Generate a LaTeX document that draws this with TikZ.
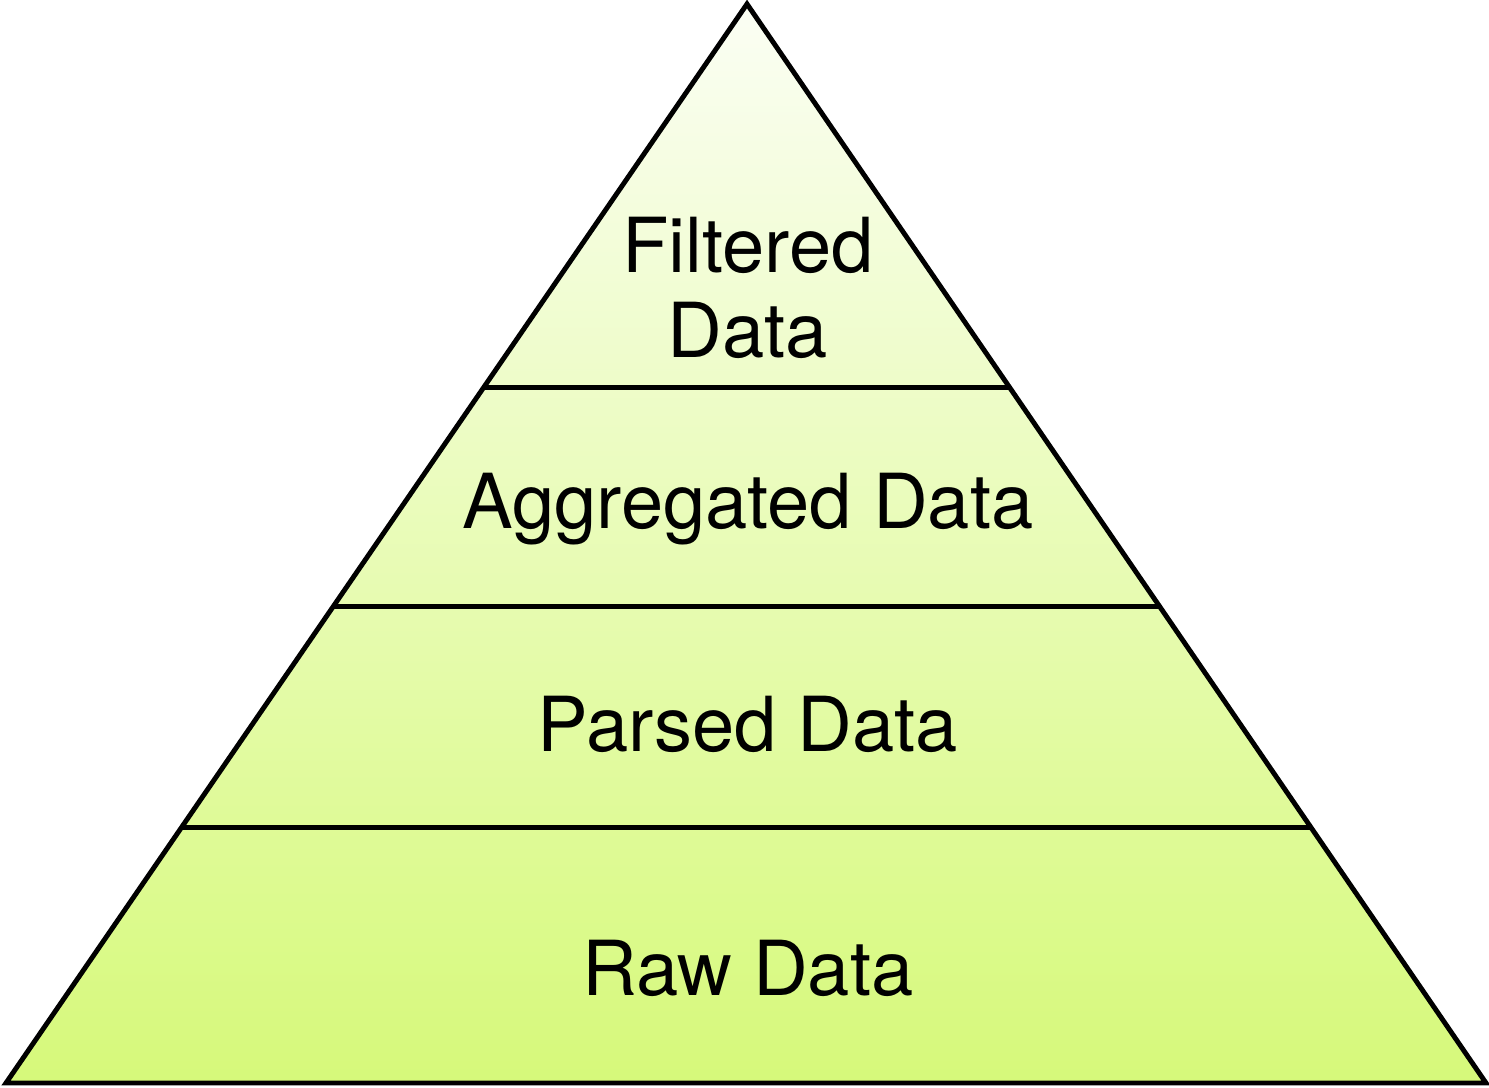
\documentclass[tikz,border=0pt]{standalone}
\usepackage{fontspec}
\setmainfont{TeX Gyre Heros}
\usetikzlibrary{calc}
\definecolor{pyrtop}{RGB}{251,254,244}
\definecolor{pyrmid}{RGB}{238,250,210}
\definecolor{pyrbot}{RGB}{214,249,122}
\tikzset{
  layer/.style={font=\fontsize{21.6pt}{24pt}\selectfont, align=center, text=black},
  edge/.style={line width=1.4pt, black, line join=miter}
}
\begin{document}
\begin{tikzpicture}
\useasboundingbox (0,0) rectangle (14.89,10.87);
% Pyramid corners
\coordinate (apex) at (7.47,10.83);
\coordinate (left) at (0.06,0.04);
\coordinate (right) at (14.86,0.04);

% Gradient body
\shade[top color=pyrtop, middle color=pyrmid, bottom color=pyrbot]
  (apex) -- (left) -- (right) -- cycle;
\draw[edge] (apex) -- (left) -- (right) -- cycle;

% Layer separators
\foreach \t [count=\i] in {0.355,0.558,0.763} {
  \coordinate (sl\i) at ($(apex)!\t!(left)$);
  \coordinate (sr\i) at ($(apex)!\t!(right)$);
  \draw[edge] (sl\i) -- (sr\i);
}

% Labels
\node[layer] (filtered) at (7.48,7.99) {Filtered\\Data};
\node[layer] (aggregated) at (7.48,5.78) {Aggregated Data};
\node[layer] (parsed) at (7.48,3.63) {Parsed Data};
\node[layer] (raw) at (7.48,1.19) {Raw Data};
\end{tikzpicture}
\end{document}
